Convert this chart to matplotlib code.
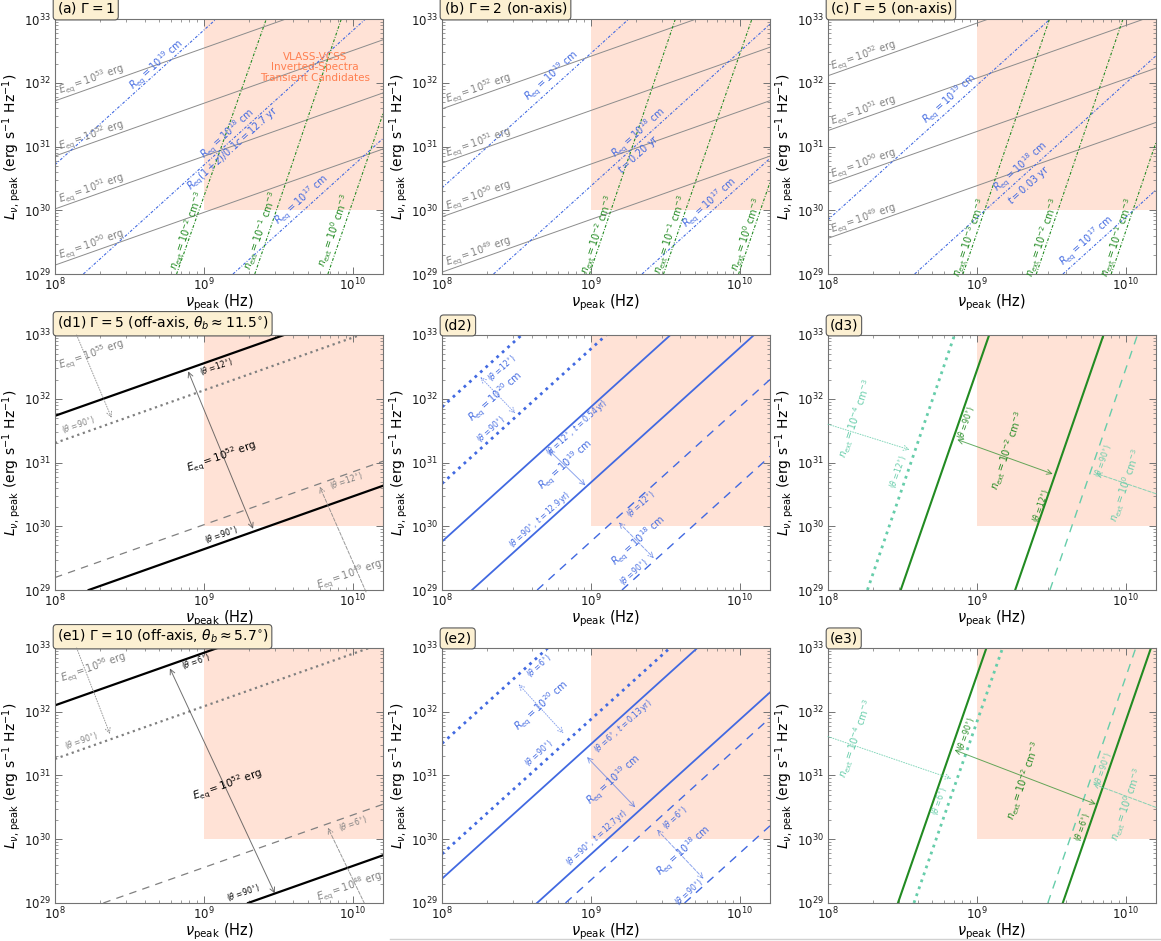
import numpy as np
import matplotlib
matplotlib.use("Agg")
import matplotlib.pyplot as plt

# Line end points: E_eq lines give L at NU_A and NU_B,
# R_eq and n_ext lines give nu at L_A and L_B.
NU_A, NU_B = 1e8, 1e10
L_A, L_B = 1e29, 1e33

# VLASS-VCSS inverted-spectra transient candidates
VLASS_NU_MIN = 1e9
VLASS_L_MIN = 1e30

# (a) Gamma = 1
a_E_exp = [53, 52, 51, 50]
a_E_La = [5.2e31, 7.1e30, 1.05e30, 1.38e29]
a_E_Lb = [2.35e33, 3.2e32, 4.7e31, 6.2e30]
a_R_exp = [19, 18, 17]
a_R_nua = [1.54e7, 1.55e8, 1.57e9]
a_R_nub = [1.21e9, 1.22e10, 1.24e11]
a_n_exp = [-2, -1, 0]
a_n_nua = [6.56e8, 2.20e9, 6.82e9]
a_n_nub = [2.63e9, 8.39e9, 2.65e10]

# (b) Gamma = 2, on-axis
b_E_exp = [52, 51, 50, 49]
b_E_La = [3.9e31, 5.5e30, 7.9e29, 1.07e29]
b_E_Lb = [1.74e33, 2.45e32, 3.55e31, 4.8e30]
b_R_exp = [19, 18, 17]
b_R_nua = [2.29e7, 2.22e8, 2.21e9]
b_R_nub = [1.80e9, 1.75e10, 1.74e11]
b_n_exp = [-2, -1, 0]
b_n_nua = [9.8e8, 3.08e9, 9.84e9]
b_n_nub = [3.70e9, 1.21e10, 3.8e10]

# (c) Gamma = 5, on-axis
c_E_exp = [52, 51, 50, 49]
c_E_La = [1.29e32, 1.78e31, 2.57e30, 3.63e29]
c_E_Lb = [5.75e33, 7.9e32, 1.15e32, 1.62e31]
c_R_exp = [19, 18, 17]
c_R_nua = [3.95e7, 3.82e8, 3.79e9]
c_R_nub = [3.11e9, 3.0e10, 2.99e11]
c_n_exp = [-3, -2, -1]
c_n_nua = [8.07e8, 2.51e9, 8.0e9]
c_n_nub = [3.08e9, 9.6e9, 3.06e10]

# (d1)-(d3) Gamma = 5, off-axis (theta_b ~ 11.5 deg)
d1_E_exp = [52, 52, 55, 49]
d1_theta = [12, 90, 90, 12]
d1_E_La = [5.4e31, 6.5e28, 2.02e31, 1.57e29]
d1_E_Lb = [2.4e33, 2.93e30, 9.1e32, 7.1e30]

d2_R_exp = [20, 20, 19, 19, 18, 18]
d2_theta = [12, 90, 12, 90, 12, 90]
d2_R_nua = [4.37e6, 1.62e7, 4.37e7, 1.59e8, 4.36e8, 1.62e9]
d2_R_nub = [3.43e8, 1.27e9, 3.43e9, 1.25e10, 3.43e10, 1.28e11]

d3_n_exp = [-4, -2, -2, 0]
d3_theta = [12, 90, 12, 90]
d3_n_nua = [1.84e8, 3.08e8, 1.81e9, 3.10e9]
d3_n_nub = [7.08e8, 1.21e9, 7.1e9, 1.20e10]

# (e1)-(e3) Gamma = 10, off-axis (theta_b ~ 5.7 deg)
e1_E_exp = [52, 52, 56, 48]
e1_theta = [6, 90, 90, 6]
e1_E_La = [1.26e32, 8.5e27, 1.82e31, 5.4e28]
e1_E_Lb = [5.6e33, 3.8e29, 8.1e32, 2.4e30]

e2_R_exp = [20, 20, 19, 19, 18, 18]
e2_theta = [6, 90, 6, 90, 6, 90]
e2_R_nua = [6.5e6, 4.32e7, 6.6e7, 4.35e8, 6.76e8, 4.27e9]
e2_R_nub = [5.14e8, 3.40e9, 5.2e9, 3.42e10, 5.3e10, 3.36e11]

e3_n_exp = [-4, -2, -2, 0]
e3_theta = [6, 90, 6, 90]
e3_n_nua = [3.78e8, 2.95e8, 3.78e9, 3.0e9]
e3_n_nub = [1.49e9, 1.16e9, 1.48e10, 1.17e10]

GREY = '0.55'
BLUE = 'royalblue'
GREEN = 'forestgreen'
AQUA = 'mediumaquamarine'
DASHDOT = (0, (2.5, 1.5, 0.8, 1.5))
LONGDASH = (0, (6, 5))
LBL = 7      # line labels
THL = 5.5    # viewing-angle labels


def setup(ax, title):
    ax.set_xscale('log')
    ax.set_yscale('log')
    ax.fill_between([VLASS_NU_MIN, 1e11], VLASS_L_MIN, 1e34,
                    color='lightsalmon', alpha=0.3, lw=0, zorder=0)
    ax.set_xlim(1e8, 1.6e10)
    ax.set_ylim(1e29, 1e33)
    ax.tick_params(which='both', direction='in', top=True, right=True,
                   color='0.45', labelsize=8.5, labelcolor='0.1')
    ax.tick_params(axis='x', which='both', pad=2)
    ax.tick_params(axis='y', which='both', pad=3)
    ax.tick_params(which='major', length=5, width=0.7)
    ax.tick_params(which='minor', length=2.5, width=0.5)
    for sp in ax.spines.values():
        sp.set_color('0.45')
        sp.set_linewidth(0.8)
    ax.set_xlabel(r'$\nu_{\rm peak}$ (Hz)', fontsize=10.5, labelpad=-1)
    ax.set_ylabel(r'$L_{\nu,\,{\rm peak}}$ (erg s$^{-1}$ Hz$^{-1}$)', fontsize=10, labelpad=1)
    ax.text(0.005, 1.01, title, transform=ax.transAxes, ha='left', va='bottom',
            fontsize=10, bbox=dict(boxstyle='round,pad=0.25', fc='#fcf0d2', ec='0.35', lw=0.8))


def ang(ax, p1, p2):
    (x1, y1), (x2, y2) = ax.transData.transform([p1, p2])
    return np.degrees(np.arctan2(y2 - y1, x2 - x1))


def tag(ax, x, y, s, rot, color, size=LBL):
    ax.text(10**x, 10**y, s, rotation=rot, rotation_mode='anchor', ha='center',
            va='center', color=color, fontsize=size, zorder=4)


def arrow(ax, p_from, p_to, color, ls='-', style='<->', alpha=0.8):
    ax.annotate('', xy=(10**p_to[0], 10**p_to[1]), xytext=(10**p_from[0], 10**p_from[1]),
                arrowprops=dict(arrowstyle=style, color=color, lw=0.7, ls=ls, alpha=alpha,
                                shrinkA=0, shrinkB=0, mutation_scale=9), zorder=3)


def e_txt(exp):
    return rf'$E_{{\rm eq}} = 10^{{{exp}}}$ erg'


def r_txt(exp):
    return rf'$R_{{\rm eq}} = 10^{{{exp}}}$ cm'


def n_txt(exp):
    return rf'$n_{{\rm ext}} = 10^{{{exp}}}$ cm$^{{-3}}$'


def th_txt(t, extra=''):
    return rf'$(\theta = {t}^{{\circ}}{extra})$'


def onaxis(ax, E_La, E_Lb, R_nua, R_nub, n_nua, n_nub):
    for La, Lb in zip(E_La, E_Lb):
        ax.axline((NU_A, La), (NU_B, Lb), color=GREY, lw=0.7, zorder=2)
    for nua, nub in zip(R_nua, R_nub):
        ax.axline((nua, L_A), (nub, L_B), color=BLUE, lw=0.8, ls=DASHDOT, zorder=2)
    for nua, nub in zip(n_nua, n_nub):
        ax.axline((nua, L_A), (nub, L_B), color=GREEN, lw=0.8, ls=DASHDOT, zorder=2)
    re = ang(ax, (NU_A, E_La[0]), (NU_B, E_Lb[0]))
    rr = ang(ax, (R_nua[0], L_A), (R_nub[0], L_B))
    rn = ang(ax, (n_nua[0], L_A), (n_nub[0], L_B))
    return re, rr, rn


fig = plt.figure(figsize=(11.61, 9.41), dpi=100)
lefts = [0.0474, 0.3807, 0.7132]
bottoms = [0.7088, 0.3730, 0.0404]
W, H = 0.2825, 0.2710
axs = [[fig.add_axes([l, b, W, H]) for l in lefts] for b in bottoms]

titles = [[r'(a) $\Gamma = 1$', r'(b) $\Gamma = 2$ (on-axis)', r'(c) $\Gamma = 5$ (on-axis)'],
          [r'(d1) $\Gamma = 5$ (off-axis, $\theta_b \approx 11.5^{\circ}$)', '(d2)', '(d3)'],
          [r'(e1) $\Gamma = 10$ (off-axis, $\theta_b \approx 5.7^{\circ}$)', '(e2)', '(e3)']]
for row, trow in zip(axs, titles):
    for ax, t in zip(row, trow):
        setup(ax, t)

# ---- (a)
ax = axs[0][0]
re, rr, rn = onaxis(ax, a_E_La, a_E_Lb, a_R_nua, a_R_nub, a_n_nua, a_n_nub)
for exp, y in zip(a_E_exp, [32.04, 31.17, 30.34, 29.46]):
    tag(ax, 8.25, y, e_txt(exp), re, '0.5')
for exp, (x, y) in zip(a_R_exp, [(8.682, 32.28), (9.16, 31.20), (9.66, 30.16)]):
    tag(ax, x, y, r_txt(exp), rr, BLUE)
tag(ax, 9.20, 30.97, r'$R_{\rm eq}(1+z)/0.1c = 12.7$ yr', rr, BLUE)
for exp, x in zip(a_n_exp, [8.89, 9.385, 9.875]):
    tag(ax, x, 29.68, n_txt(exp), rn, GREEN)
ax.text(10**9.745, 10**32.24, 'VLASS-VCSS\nInverted-Spectra\nTransient Candidates',
        ha='center', va='center', color='coral', fontsize=7.5, linespacing=1.05, zorder=4)

# ---- (b)
ax = axs[0][1]
re, rr, rn = onaxis(ax, b_E_La, b_E_Lb, b_R_nua, b_R_nub, b_n_nua, b_n_nub)
for exp, y in zip(b_E_exp, [31.91, 31.06, 30.22, 29.35]):
    tag(ax, 8.25, y, e_txt(exp), re, '0.5')
for exp, (x, y) in zip(b_R_exp, [(8.74, 32.10), (9.321, 31.21), (9.80, 30.11)]):
    tag(ax, x, y, r_txt(exp), rr, BLUE)
tag(ax, 9.32, 30.87, r'$t = 0.20$ yr', rr, BLUE)
for exp, x in zip(b_n_exp, [9.045, 9.535, 10.045]):
    tag(ax, x, 29.62, n_txt(exp), rn, GREEN)

# ---- (c)
ax = axs[0][2]
re, rr, rn = onaxis(ax, c_E_La, c_E_Lb, c_R_nua, c_R_nub, c_n_nua, c_n_nub)
for exp, y in zip(c_E_exp, [32.42, 31.56, 30.72, 29.87]):
    tag(ax, 8.24, y, e_txt(exp), re, '0.5')
for exp, (x, y) in zip(c_R_exp, [(8.817, 31.75), (9.299, 30.68), (9.74, 29.51)]):
    tag(ax, x, y, r_txt(exp), rr, BLUE)
tag(ax, 9.35, 30.40, r'$t = 0.03$ yr', rr, BLUE)
for exp, x in zip(c_n_exp, [8.95, 9.44, 9.945]):
    tag(ax, x, 29.57, n_txt(exp), rn, GREEN)

# ---- (d1) / (e1): E_eq lines for two viewing angles
off_E_style = [dict(color='black', lw=1.6), dict(color='black', lw=1.6),
               dict(color='0.5', lw=1.6, ls=':'), dict(color='0.5', lw=0.9, ls=LONGDASH)]
for ax, La_list, Lb_list in [(axs[1][0], d1_E_La, d1_E_Lb), (axs[2][0], e1_E_La, e1_E_Lb)]:
    for La, Lb, st in zip(La_list, Lb_list, off_E_style):
        ax.axline((NU_A, La), (NU_B, Lb), zorder=2, **st)

ax = axs[1][0]
re = ang(ax, (NU_A, d1_E_La[0]), (NU_B, d1_E_Lb[0]))
arrow(ax, (8.895, 32.43), (9.331, 29.96), '0.3')
tag(ax, 9.119, 31.09, e_txt(d1_E_exp[0]), re, 'black', 7.5)
tag(ax, 9.085, 32.50, th_txt(d1_theta[0]), re, 'black', THL)
tag(ax, 9.119, 29.87, th_txt(d1_theta[1]), re, 'black', THL)
arrow(ax, (8.145, 33.0), (8.38, 31.70), '0.5', ls=':', style='->')
tag(ax, 8.246, 32.68, e_txt(d1_E_exp[2]), re, '0.5')
tag(ax, 8.157, 31.60, th_txt(d1_theta[2]), re, '0.5', THL)
arrow(ax, (10.09, 28.97), (9.779, 30.62), '0.5', ls='--', style='->')
tag(ax, 9.98, 29.24, e_txt(d1_E_exp[3]), re, '0.5')
tag(ax, 9.957, 30.72, th_txt(d1_theta[3]), re, '0.5', THL)

ax = axs[2][0]
re = ang(ax, (NU_A, e1_E_La[0]), (NU_B, e1_E_Lb[0]))
arrow(ax, (8.772, 32.68), (9.477, 29.15), '0.3')
tag(ax, 9.163, 30.84, e_txt(e1_E_exp[0]), re, 'black', 7.5)
tag(ax, 8.951, 32.79, th_txt(e1_theta[0]), re, 'black', THL)
tag(ax, 9.264, 29.17, th_txt(e1_theta[1]), re, 'black', THL)
arrow(ax, (8.145, 33.0), (8.369, 31.65), '0.5', ls=':', style='->')
tag(ax, 8.257, 32.68, e_txt(e1_E_exp[2]), re, '0.5')
tag(ax, 8.179, 31.55, th_txt(e1_theta[2]), re, '0.5', THL)
arrow(ax, (10.08, 28.99), (9.834, 30.18), '0.5', ls='--', style='->')
tag(ax, 9.98, 29.25, e_txt(e1_E_exp[3]), re, '0.5')
tag(ax, 10.0, 30.25, th_txt(e1_theta[3]), re, '0.5', THL)

# ---- (d2) / (e2): R_eq lines
off_R_style = [dict(lw=2.0, ls=':'), dict(lw=2.0, ls=':'),
               dict(lw=1.3), dict(lw=1.3),
               dict(lw=1.0, ls=LONGDASH), dict(lw=1.0, ls=LONGDASH)]
for ax, nua_list, nub_list in [(axs[1][1], d2_R_nua, d2_R_nub), (axs[2][1], e2_R_nua, e2_R_nub)]:
    for nua, nub, st in zip(nua_list, nub_list, off_R_style):
        ax.axline((nua, L_A), (nub, L_B), color=BLUE, zorder=2, **st)

ax = axs[1][1]
rr = ang(ax, (d2_R_nua[0], L_A), (d2_R_nub[0], L_B))
arrow(ax, (8.258, 32.34), (8.493, 31.77), BLUE, ls=':', alpha=0.6)
tag(ax, 8.359, 32.03, r_txt(d2_R_exp[0]), rr, BLUE)
tag(ax, 8.404, 32.48, th_txt(d2_theta[0]), rr, BLUE, THL)
tag(ax, 8.325, 31.52, th_txt(d2_theta[1]), rr, BLUE, THL)
arrow(ax, (8.717, 31.20), (8.964, 30.64), BLUE, alpha=0.6)
tag(ax, 8.83, 30.96, r_txt(d2_R_exp[2]), rr, BLUE)
tag(ax, 8.908, 31.55, th_txt(d2_theta[2], r',\ t = 0.54\,{\rm yr}'), rr, BLUE, THL)
tag(ax, 8.661, 30.11, th_txt(d2_theta[3], r',\ t = 12.9\,{\rm yr}'), rr, BLUE, THL)
arrow(ax, (9.188, 30.06), (9.424, 29.50), BLUE, ls='--', alpha=0.6)
tag(ax, 9.323, 29.76, r_txt(d2_R_exp[4]), rr, BLUE)
tag(ax, 9.334, 30.35, th_txt(d2_theta[4]), rr, BLUE, THL)
tag(ax, 9.289, 29.28, th_txt(d2_theta[5]), rr, BLUE, THL)

ax = axs[2][1]
rr = ang(ax, (e2_R_nua[0], L_A), (e2_R_nub[0], L_B))
arrow(ax, (8.515, 32.43), (8.817, 31.66), BLUE, ls=':', alpha=0.6)
tag(ax, 8.672, 32.09, r_txt(e2_R_exp[0]), rr, BLUE)
tag(ax, 8.65, 32.72, th_txt(e2_theta[0]), rr, BLUE, THL)
tag(ax, 8.65, 31.35, th_txt(e2_theta[1]), rr, BLUE, THL)
arrow(ax, (8.974, 31.29), (9.299, 30.50), BLUE, alpha=0.6)
tag(ax, 9.153, 30.92, r_txt(e2_R_exp[2]), rr, BLUE)
tag(ax, 9.22, 31.77, th_txt(e2_theta[2], r',\ t = 0.13\,{\rm yr}'), rr, BLUE, THL)
tag(ax, 9.041, 30.02, th_txt(e2_theta[3], r',\ t = 12.7\,{\rm yr}'), rr, BLUE, THL)
arrow(ax, (9.445, 30.15), (9.758, 29.38), BLUE, ls='--', alpha=0.6)
tag(ax, 9.624, 29.81, r_txt(e2_R_exp[4]), rr, BLUE)
tag(ax, 9.568, 30.34, th_txt(e2_theta[4]), rr, BLUE, THL)
tag(ax, 9.657, 29.17, th_txt(e2_theta[5]), rr, BLUE, THL)

# ---- (d3) / (e3): n_ext lines
off_n_style = [dict(color=AQUA, lw=2.0, ls=':'), dict(color=GREEN, lw=1.5),
               dict(color=GREEN, lw=1.5), dict(color=AQUA, lw=1.0, ls=LONGDASH)]
for ax, nua_list, nub_list in [(axs[1][2], d3_n_nua, d3_n_nub), (axs[2][2], e3_n_nua, e3_n_nub)]:
    for nua, nub, st in zip(nua_list, nub_list, off_n_style):
        ax.axline((nua, L_A), (nub, L_B), zorder=2, **st)

ax = axs[1][2]
rn = ang(ax, (d3_n_nua[0], L_A), (d3_n_nub[0], L_B))
arrow(ax, (8.0, 31.60), (8.548, 31.20), AQUA, ls=':', style='->')
tag(ax, 8.186, 31.68, n_txt(d3_n_exp[0]), rn, AQUA)
tag(ax, 8.47, 30.86, th_txt(d3_theta[0]), rn, AQUA, THL)
arrow(ax, (8.868, 31.36), (9.51, 30.82), GREEN, alpha=0.7)
tag(ax, 9.208, 31.18, n_txt(d3_n_exp[1]), rn, GREEN)
tag(ax, 8.928, 31.63, th_txt(d3_theta[1]), rn, GREEN, THL)
tag(ax, 9.432, 30.32, th_txt(d3_theta[2]), rn, GREEN, THL)
arrow(ax, (10.204, 30.51), (9.80, 30.83), AQUA, ls='--', style='->')
tag(ax, 10.0, 30.64, n_txt(d3_n_exp[3]), rn, AQUA)
tag(ax, 9.846, 31.03, th_txt(d3_theta[3]), rn, AQUA, THL)

ax = axs[2][2]
rn = ang(ax, (e3_n_nua[0], L_A), (e3_n_nub[0], L_B))
arrow(ax, (8.0, 31.61), (8.828, 30.95), AQUA, ls=':', style='->')
tag(ax, 8.19, 31.58, n_txt(e3_n_exp[0]), rn, AQUA)
tag(ax, 8.749, 30.60, th_txt(e3_theta[0]), rn, AQUA, THL)
arrow(ax, (8.85, 31.40), (9.80, 30.55), GREEN, alpha=0.7)
tag(ax, 9.32, 30.92, n_txt(e3_n_exp[1]), rn, GREEN)
tag(ax, 8.928, 31.66, th_txt(e3_theta[1]), rn, GREEN, THL)
tag(ax, 9.711, 30.20, th_txt(e3_theta[2]), rn, GREEN, THL)
arrow(ax, (10.204, 30.50), (9.78, 30.87), AQUA, ls='--', style='->')
tag(ax, 10.01, 30.55, n_txt(e3_n_exp[3]), rn, AQUA)
tag(ax, 9.85, 31.11, th_txt(e3_theta[3]), rn, AQUA, THL)

fig.add_artist(plt.Line2D([0.336, 1.0], [0.002, 0.002], color='0.82', lw=1))

fig.savefig('out.png', dpi=100)
